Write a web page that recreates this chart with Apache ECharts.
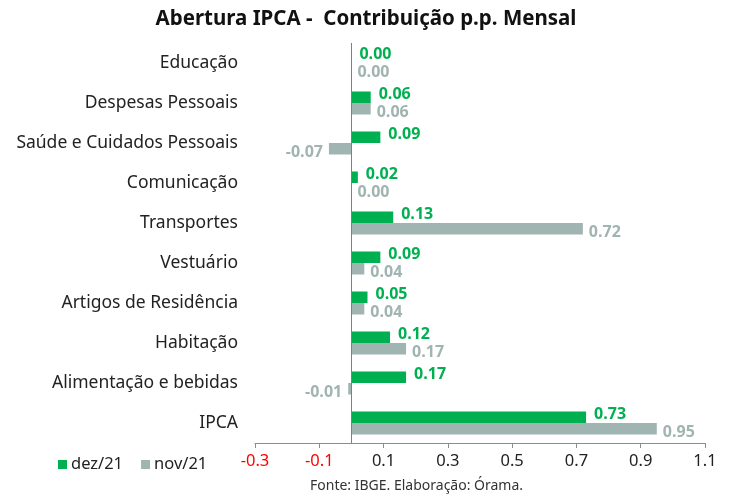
<!DOCTYPE html>
<html>
<head>
<meta charset="utf-8">
<script src="https://cdn.jsdelivr.net/npm/echarts@6/dist/echarts.min.js"></script>
<style>
  html, body { margin: 0; padding: 0; background: #fff; }
  #chart { width: 732px; height: 499px; }
</style>
</head>
<body>
<div id="chart"></div>
<script>
// categorias de cima para baixo
var categorias = ['Educação', 'Despesas Pessoais', 'Saúde e Cuidados Pessoais', 'Comunicação',
    'Transportes', 'Vestuário', 'Artigos de Residência', 'Habitação', 'Alimentação e bebidas', 'IPCA'];
var dez21 = [0.00, 0.06, 0.09, 0.02, 0.13, 0.09, 0.05, 0.12, 0.17, 0.73];
var nov21 = [0.00, 0.06, -0.07, 0.00, 0.72, 0.04, 0.04, 0.17, -0.01, 0.95];
var ticksX = [-0.3, -0.1, 0.1, 0.3, 0.5, 0.7, 0.9, 1.1];

var VERDE = '#00b050';
var CINZA = '#a0b4b2';
var FONTE = '"Noto Sans", sans-serif';
var FONTE_ROTULO = '"Open Sans", "Noto Sans", sans-serif';

// monta os itens: rótulo do lado esquerdo quando o valor é negativo
var montaDados = function(valores, dy) {
    return valores.map(function(v) {
        return {
            value: v,
            label: { position: v < 0 ? 'left' : 'right', offset: [0, dy] }
        };
    });
};

var myChart = echarts.init(document.getElementById('chart'));

var option = {
    animation: false,
    textStyle: { fontFamily: FONTE },
    title: {
        text: 'Abertura IPCA -  Contribuição p.p. Mensal',
        left: 'center',
        top: 4,
        textStyle: { fontFamily: FONTE, fontSize: 20.5, fontWeight: 'bold', color: '#111' }
    },
    legend: {
        left: 53,
        top: 451,
        icon: 'rect',
        itemWidth: 9,
        itemHeight: 9,
        itemGap: 18,
        textStyle: { fontFamily: FONTE, fontSize: 16.5, color: '#222', padding: [0, 0, 0, -1] },
        data: ['dez/21', 'nov/21']
    },
    graphic: [{
        type: 'text',
        left: 310,
        top: 479,
        style: { text: 'Fonte: IBGE. Elaboração: Órama.', font: '14px ' + FONTE, fill: '#333' }
    }],
    grid: { left: 255, right: 27, top: 43, bottom: 56, containLabel: false },
    xAxis: {
        type: 'value',
        min: ticksX[0],
        max: ticksX[ticksX.length - 1],
        interval: 0.2,
        splitLine: { show: false },
        axisLine: { show: true, lineStyle: { color: '#8c8c8c' } },
        axisTick: { show: true, length: 5, lineStyle: { color: '#8c8c8c' } },
        axisLabel: {
            fontSize: 16.5,
            margin: 10,
            formatter: function(v) { return v.toFixed(1); },
            color: function(v) { return v < 0 ? '#ff0000' : '#222'; }
        }
    },
    yAxis: {
        type: 'category',
        inverse: true,
        data: categorias,
        axisLine: { show: false },
        axisTick: { show: false },
        axisLabel: { fontSize: 17.5, color: '#222', margin: 17 }
    },
    series: [{
        name: 'dez/21',
        type: 'bar',
        data: montaDados(dez21, -3),
        barWidth: 11.5,
        barGap: '0%',
        itemStyle: { color: VERDE },
        label: {
            show: true,
            distance: 8,
            fontFamily: FONTE_ROTULO,
            fontSize: 16,
            fontWeight: 'bold',
            color: VERDE,
            formatter: function(p) { return p.value.toFixed(2); }
        },
        markLine: {
            silent: true,
            symbol: 'none',
            label: { show: false },
            lineStyle: { color: '#808080', width: 1, type: 'solid' },
            data: [{ xAxis: 0 }]
        }
    }, {
        name: 'nov/21',
        type: 'bar',
        data: montaDados(nov21, 4),
        barWidth: 11.5,
        barGap: '0%',
        itemStyle: { color: CINZA },
        label: {
            show: true,
            distance: 6,
            fontFamily: FONTE_ROTULO,
            fontSize: 16,
            fontWeight: 'bold',
            color: CINZA,
            formatter: function(p) { return p.value.toFixed(2); }
        }
    }]
};

myChart.setOption(option);
</script>
</body>
</html>
